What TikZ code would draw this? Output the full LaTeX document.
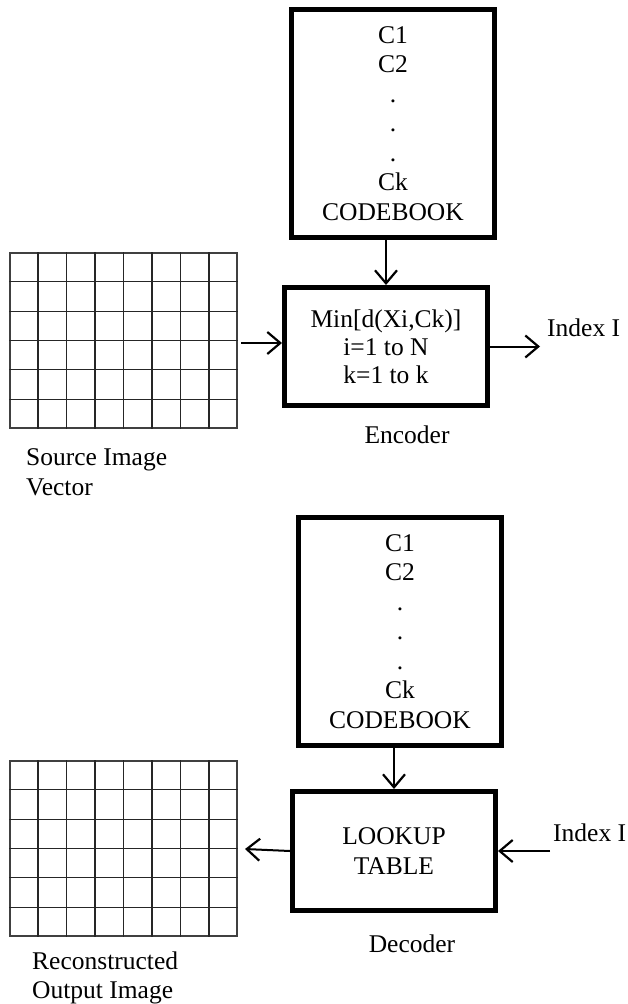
\documentclass[tikz,border=0pt]{standalone}
\usepackage{fontspec}
\setmainfont{Liberation Serif}
\usetikzlibrary{calc,arrows.meta}

\tikzset{
  block/.style={draw,line width=5pt,minimum width=203pt,align=center,
    inner sep=0pt,font=\fontsize{25.5}{29.5}\selectfont},
  label/.style={inner sep=0pt,align=left,font=\fontsize{25.5}{29.5}\selectfont},
  imgbox/.style={draw=black!75,line width=1.1pt,minimum width=227pt,
    minimum height=175pt,inner sep=0pt},
  gridline/.style={black!85,line width=1.1pt},
  flow/.style={line width=2pt,-{Straight Barb[length=13pt,width=22pt,line width=2.2pt]}}
}

\begin{document}
\begin{tikzpicture}[x=1pt,y=-1pt]
  \useasboundingbox (0,0) rectangle (627,1004);
  %
  % Encoder side
  \node[block,minimum height=228pt] (cbA) at (393,123.5)
    {C1\\C2\\.\\.\\.\\Ck\\CODEBOOK};
  \node[block,minimum height=118pt,font=\fontsize{25.5}{28}\selectfont] (enc) at (386,346.5)
    {Min[d(Xi,Ck)]\\i=1 to N\\k=1 to k};
  \node[label,anchor=center] (encname) at (407,435) {Encoder};
  %
  % Source image grid
  \node[imgbox] (src) at (123.5,340.5) {};
  \foreach \i in {1,...,7}
    \draw[gridline] ($(src.north west)!\i/8!(src.north east)$)
      -- ($(src.south west)!\i/8!(src.south east)$);
  \foreach \j in {1,...,5}
    \draw[gridline] ($(src.north west)!\j/6!(src.south west)$)
      -- ($(src.north east)!\j/6!(src.south east)$);
  \node[label,anchor=west] (srcname) at (26,472) {Source Image\\Vector};
  %
  % Encoder arrows
  \coordinate (srcout) at (241,343);
  \coordinate (idxout) at (540,346.5);
  \draw[flow] (enc.north |- cbA.south) -- (enc.north);
  \draw[flow] (srcout) -- (srcout -| enc.west);
  \draw[flow] (enc.east) -- (idxout);
  \node[label,anchor=west] (idxA) at (547,328) {Index I};
  %
  % Decoder side
  \node[block,minimum height=228pt] (cbB) at (400,631.5)
    {C1\\C2\\.\\.\\.\\Ck\\CODEBOOK};
  \node[block,minimum height=119pt] (dec) at (394,851)
    {LOOKUP\\TABLE};
  \node[label,anchor=center] (decname) at (412,944) {Decoder};
  %
  % Reconstructed image grid
  \node[imgbox] (rec) at (123.5,848.5) {};
  \foreach \i in {1,...,7}
    \draw[gridline] ($(rec.north west)!\i/8!(rec.north east)$)
      -- ($(rec.south west)!\i/8!(rec.south east)$);
  \foreach \j in {1,...,5}
    \draw[gridline] ($(rec.north west)!\j/6!(rec.south west)$)
      -- ($(rec.north east)!\j/6!(rec.south east)$);
  \node[label,anchor=west] (recname) at (32,978) {Reconstructed\\Output Image};
  %
  % Decoder arrows
  \coordinate (idxin) at (550,851);
  \coordinate (recin) at (245,849);
  \draw[flow] (dec.north |- cbB.south) -- (dec.north);
  \draw[flow] (idxin) -- (dec.east);
  \draw[flow] (dec.west) -- (recin);
  \node[label,anchor=west] (idxB) at (553,833) {Index I};
  %
\end{tikzpicture}
\end{document}
